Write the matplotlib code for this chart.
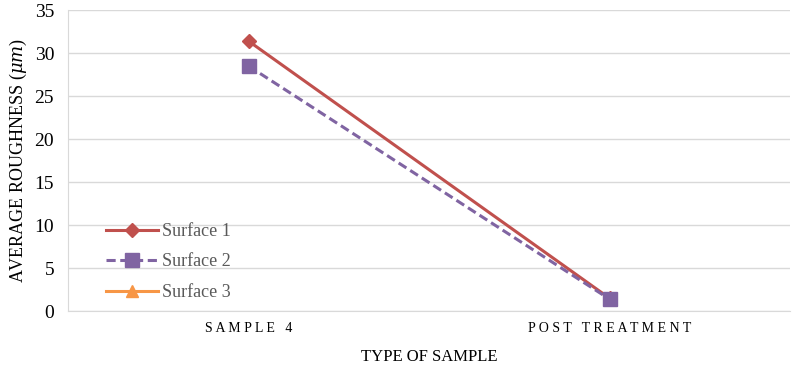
import numpy as np
import matplotlib.pyplot as plt

categories = ['SAMPLE 4', 'POST TREATMENT']
surface1 = [31.4, 1.5]
surface2 = [28.5, 1.4]
surface3 = [np.nan, np.nan]

plt.rcParams['font.family'] = ['Liberation Serif', 'DejaVu Serif']
plt.rcParams['mathtext.fontset'] = 'dejavuserif'

fig = plt.figure(figsize=(7.97, 3.74), dpi=100)
ax = fig.add_axes([0.0853, 0.168, 0.906, 0.805])

x = np.arange(len(categories))
ax.plot(x, surface1, color='#C0504D', lw=2.2, marker='D', ms=7, label='Surface 1', zorder=3)
ax.plot(x, surface2, color='#8064A2', lw=2.2, ls=(0, (3, 1.5)), marker='s', ms=10, label='Surface 2', zorder=4)
ax.plot(x, surface3, color='#F79646', lw=2.2, marker='^', ms=9, label='Surface 3', zorder=2)

ax.set_xlim(-0.5, 1.5)
ax.set_ylim(0, 35)
ax.set_yticks(range(0, 36, 5))
ax.set_xticks(x)
ax.set_xticklabels([' '.join(c) for c in categories], fontsize=10)
ax.tick_params(axis='y', labelsize=14, length=0, pad=10)
ax.tick_params(axis='x', length=0, pad=8)
ax.grid(axis='y', color='#D9D9D9', lw=1)
ax.set_axisbelow(True)
for s in ['top', 'right']:
    ax.spines[s].set_visible(False)
for s in ['left', 'bottom']:
    ax.spines[s].set_color('#D9D9D9')

ax.set_xlabel('TYPE OF SAMPLE', fontsize=12, labelpad=10)
ax.set_ylabel(r'AVERAGE ROUGHNESS ($\mu m$)', fontsize=13, labelpad=4)

ax.legend(loc='lower left', bbox_to_anchor=(0.03, -0.02), frameon=False,
          fontsize=13, handlelength=2.9, handletextpad=0.2, labelspacing=0.75,
          labelcolor='#595959')

fig.savefig('out.png', dpi=100)
